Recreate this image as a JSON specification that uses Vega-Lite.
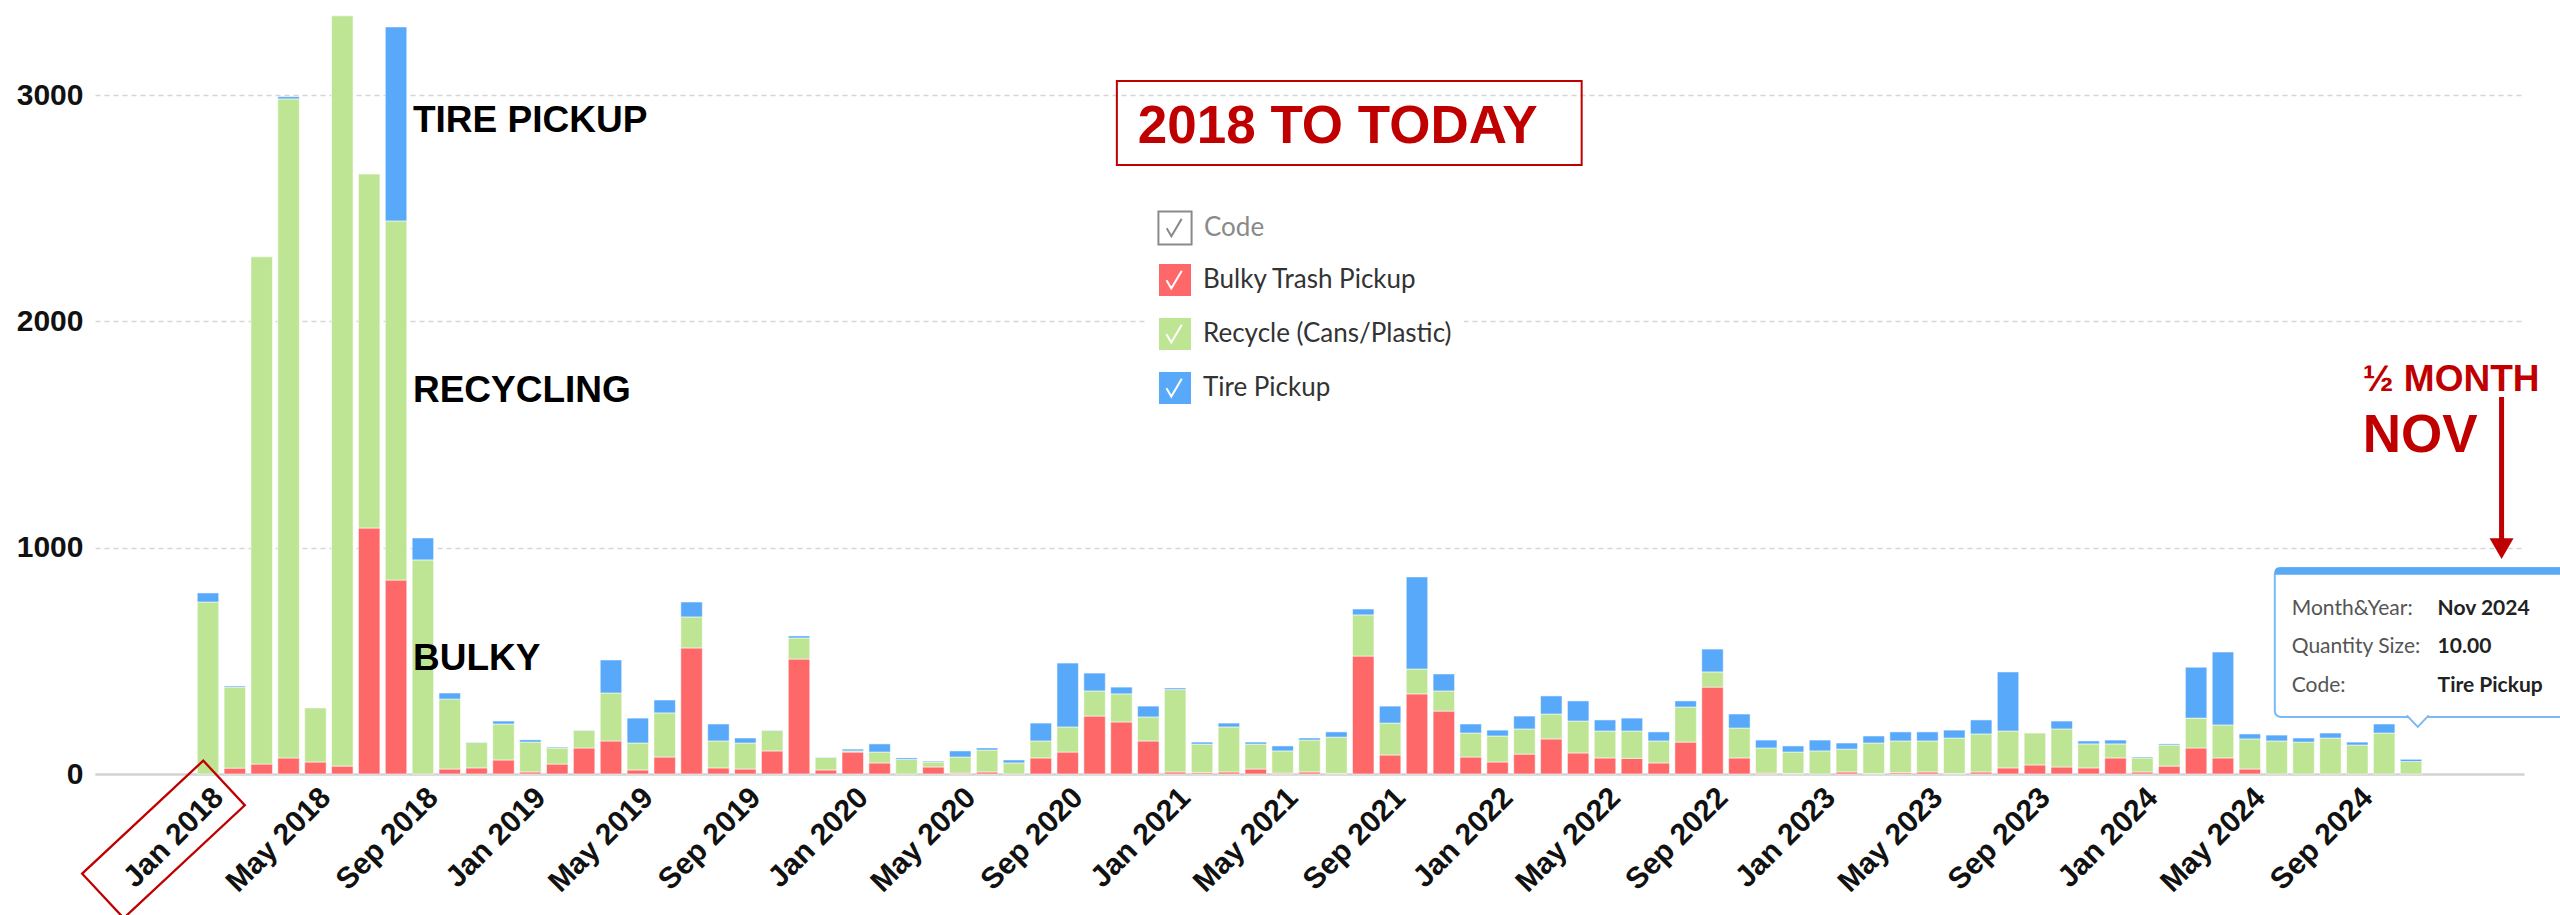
{
  "$schema": "https://vega.github.io/schema/vega-lite/v6.json",
  "autosize": {"type": "none"},
  "width": 2429,
  "height": 774,
  "padding": {"left": 95, "top": 0, "right": 36, "bottom": 141},
  "background": "#ffffff",
  "config": {"view": {"stroke": null}},
  "resolve": {"scale": {"x": "independent", "y": "independent"}},
  "layer": [
    {
      "data": {"values": [
        {"month":"Jan 2018","Bulky Trash Pickup":0,"Recycle (Cans/Plastic)":760,"Tire Pickup":40},
        {"month":"Feb 2018","Bulky Trash Pickup":26,"Recycle (Cans/Plastic)":358,"Tire Pickup":5},
        {"month":"Mar 2018","Bulky Trash Pickup":44,"Recycle (Cans/Plastic)":2241,"Tire Pickup":0},
        {"month":"Apr 2018","Bulky Trash Pickup":71,"Recycle (Cans/Plastic)":2912,"Tire Pickup":10},
        {"month":"May 2018","Bulky Trash Pickup":53,"Recycle (Cans/Plastic)":239,"Tire Pickup":0},
        {"month":"Jun 2018","Bulky Trash Pickup":35,"Recycle (Cans/Plastic)":3315,"Tire Pickup":0},
        {"month":"Jul 2018","Bulky Trash Pickup":1087,"Recycle (Cans/Plastic)":1564,"Tire Pickup":0},
        {"month":"Aug 2018","Bulky Trash Pickup":857,"Recycle (Cans/Plastic)":1587,"Tire Pickup":857},
        {"month":"Sep 2018","Bulky Trash Pickup":0,"Recycle (Cans/Plastic)":946,"Tire Pickup":97},
        {"month":"Oct 2018","Bulky Trash Pickup":22,"Recycle (Cans/Plastic)":309,"Tire Pickup":27},
        {"month":"Nov 2018","Bulky Trash Pickup":27,"Recycle (Cans/Plastic)":112,"Tire Pickup":2},
        {"month":"Dec 2018","Bulky Trash Pickup":62,"Recycle (Cans/Plastic)":159,"Tire Pickup":13},
        {"month":"Jan 2019","Bulky Trash Pickup":9,"Recycle (Cans/Plastic)":132,"Tire Pickup":10},
        {"month":"Feb 2019","Bulky Trash Pickup":44,"Recycle (Cans/Plastic)":71,"Tire Pickup":4},
        {"month":"Mar 2019","Bulky Trash Pickup":115,"Recycle (Cans/Plastic)":77,"Tire Pickup":2},
        {"month":"Apr 2019","Bulky Trash Pickup":146,"Recycle (Cans/Plastic)":212,"Tire Pickup":146},
        {"month":"May 2019","Bulky Trash Pickup":18,"Recycle (Cans/Plastic)":119,"Tire Pickup":110},
        {"month":"Jun 2019","Bulky Trash Pickup":75,"Recycle (Cans/Plastic)":195,"Tire Pickup":57},
        {"month":"Jul 2019","Bulky Trash Pickup":557,"Recycle (Cans/Plastic)":137,"Tire Pickup":66},
        {"month":"Aug 2019","Bulky Trash Pickup":27,"Recycle (Cans/Plastic)":119,"Tire Pickup":75},
        {"month":"Sep 2019","Bulky Trash Pickup":22,"Recycle (Cans/Plastic)":115,"Tire Pickup":22},
        {"month":"Oct 2019","Bulky Trash Pickup":102,"Recycle (Cans/Plastic)":90,"Tire Pickup":2},
        {"month":"Nov 2019","Bulky Trash Pickup":508,"Recycle (Cans/Plastic)":93,"Tire Pickup":9},
        {"month":"Dec 2019","Bulky Trash Pickup":18,"Recycle (Cans/Plastic)":55,"Tire Pickup":2},
        {"month":"Jan 2020","Bulky Trash Pickup":97,"Recycle (Cans/Plastic)":5,"Tire Pickup":8},
        {"month":"Feb 2020","Bulky Trash Pickup":49,"Recycle (Cans/Plastic)":48,"Tire Pickup":36},
        {"month":"Mar 2020","Bulky Trash Pickup":0,"Recycle (Cans/Plastic)":64,"Tire Pickup":7},
        {"month":"Apr 2020","Bulky Trash Pickup":31,"Recycle (Cans/Plastic)":22,"Tire Pickup":4},
        {"month":"May 2020","Bulky Trash Pickup":4,"Recycle (Cans/Plastic)":71,"Tire Pickup":27},
        {"month":"Jun 2020","Bulky Trash Pickup":9,"Recycle (Cans/Plastic)":97,"Tire Pickup":9},
        {"month":"Jul 2020","Bulky Trash Pickup":0,"Recycle (Cans/Plastic)":49,"Tire Pickup":13},
        {"month":"Aug 2020","Bulky Trash Pickup":71,"Recycle (Cans/Plastic)":75,"Tire Pickup":79},
        {"month":"Sep 2020","Bulky Trash Pickup":97,"Recycle (Cans/Plastic)":111,"Tire Pickup":282},
        {"month":"Oct 2020","Bulky Trash Pickup":256,"Recycle (Cans/Plastic)":111,"Tire Pickup":79},
        {"month":"Nov 2020","Bulky Trash Pickup":230,"Recycle (Cans/Plastic)":124,"Tire Pickup":30},
        {"month":"Dec 2020","Bulky Trash Pickup":146,"Recycle (Cans/Plastic)":106,"Tire Pickup":48},
        {"month":"Jan 2021","Bulky Trash Pickup":9,"Recycle (Cans/Plastic)":364,"Tire Pickup":7},
        {"month":"Feb 2021","Bulky Trash Pickup":6,"Recycle (Cans/Plastic)":126,"Tire Pickup":9},
        {"month":"Mar 2021","Bulky Trash Pickup":9,"Recycle (Cans/Plastic)":199,"Tire Pickup":17},
        {"month":"Apr 2021","Bulky Trash Pickup":22,"Recycle (Cans/Plastic)":110,"Tire Pickup":9},
        {"month":"May 2021","Bulky Trash Pickup":4,"Recycle (Cans/Plastic)":98,"Tire Pickup":22},
        {"month":"Jun 2021","Bulky Trash Pickup":9,"Recycle (Cans/Plastic)":141,"Tire Pickup":9},
        {"month":"Jul 2021","Bulky Trash Pickup":3,"Recycle (Cans/Plastic)":160,"Tire Pickup":23},
        {"month":"Aug 2021","Bulky Trash Pickup":521,"Recycle (Cans/Plastic)":182,"Tire Pickup":26},
        {"month":"Sep 2021","Bulky Trash Pickup":84,"Recycle (Cans/Plastic)":141,"Tire Pickup":75},
        {"month":"Oct 2021","Bulky Trash Pickup":354,"Recycle (Cans/Plastic)":110,"Tire Pickup":407},
        {"month":"Nov 2021","Bulky Trash Pickup":278,"Recycle (Cans/Plastic)":89,"Tire Pickup":75},
        {"month":"Dec 2021","Bulky Trash Pickup":75,"Recycle (Cans/Plastic)":106,"Tire Pickup":40},
        {"month":"Jan 2022","Bulky Trash Pickup":53,"Recycle (Cans/Plastic)":115,"Tire Pickup":26},
        {"month":"Feb 2022","Bulky Trash Pickup":88,"Recycle (Cans/Plastic)":111,"Tire Pickup":57},
        {"month":"Mar 2022","Bulky Trash Pickup":155,"Recycle (Cans/Plastic)":110,"Tire Pickup":80},
        {"month":"Apr 2022","Bulky Trash Pickup":93,"Recycle (Cans/Plastic)":141,"Tire Pickup":89},
        {"month":"May 2022","Bulky Trash Pickup":71,"Recycle (Cans/Plastic)":119,"Tire Pickup":49},
        {"month":"Jun 2022","Bulky Trash Pickup":69,"Recycle (Cans/Plastic)":121,"Tire Pickup":57},
        {"month":"Jul 2022","Bulky Trash Pickup":49,"Recycle (Cans/Plastic)":97,"Tire Pickup":40},
        {"month":"Aug 2022","Bulky Trash Pickup":141,"Recycle (Cans/Plastic)":155,"Tire Pickup":27},
        {"month":"Sep 2022","Bulky Trash Pickup":384,"Recycle (Cans/Plastic)":67,"Tire Pickup":101},
        {"month":"Oct 2022","Bulky Trash Pickup":71,"Recycle (Cans/Plastic)":132,"Tire Pickup":62},
        {"month":"Nov 2022","Bulky Trash Pickup":4,"Recycle (Cans/Plastic)":111,"Tire Pickup":35},
        {"month":"Dec 2022","Bulky Trash Pickup":2,"Recycle (Cans/Plastic)":95,"Tire Pickup":27},
        {"month":"Jan 2023","Bulky Trash Pickup":0,"Recycle (Cans/Plastic)":102,"Tire Pickup":48},
        {"month":"Feb 2023","Bulky Trash Pickup":9,"Recycle (Cans/Plastic)":101,"Tire Pickup":27},
        {"month":"Mar 2023","Bulky Trash Pickup":2,"Recycle (Cans/Plastic)":135,"Tire Pickup":31},
        {"month":"Apr 2023","Bulky Trash Pickup":6,"Recycle (Cans/Plastic)":140,"Tire Pickup":40},
        {"month":"May 2023","Bulky Trash Pickup":9,"Recycle (Cans/Plastic)":137,"Tire Pickup":40},
        {"month":"Jun 2023","Bulky Trash Pickup":2,"Recycle (Cans/Plastic)":157,"Tire Pickup":35},
        {"month":"Jul 2023","Bulky Trash Pickup":9,"Recycle (Cans/Plastic)":168,"Tire Pickup":62},
        {"month":"Aug 2023","Bulky Trash Pickup":27,"Recycle (Cans/Plastic)":163,"Tire Pickup":261},
        {"month":"Sep 2023","Bulky Trash Pickup":40,"Recycle (Cans/Plastic)":141,"Tire Pickup":0},
        {"month":"Oct 2023","Bulky Trash Pickup":31,"Recycle (Cans/Plastic)":168,"Tire Pickup":35},
        {"month":"Nov 2023","Bulky Trash Pickup":27,"Recycle (Cans/Plastic)":106,"Tire Pickup":13},
        {"month":"Dec 2023","Bulky Trash Pickup":71,"Recycle (Cans/Plastic)":62,"Tire Pickup":17},
        {"month":"Jan 2024","Bulky Trash Pickup":9,"Recycle (Cans/Plastic)":62,"Tire Pickup":4},
        {"month":"Feb 2024","Bulky Trash Pickup":35,"Recycle (Cans/Plastic)":93,"Tire Pickup":5},
        {"month":"Mar 2024","Bulky Trash Pickup":115,"Recycle (Cans/Plastic)":132,"Tire Pickup":225},
        {"month":"Apr 2024","Bulky Trash Pickup":71,"Recycle (Cans/Plastic)":146,"Tire Pickup":322},
        {"month":"May 2024","Bulky Trash Pickup":22,"Recycle (Cans/Plastic)":133,"Tire Pickup":22},
        {"month":"Jun 2024","Bulky Trash Pickup":0,"Recycle (Cans/Plastic)":146,"Tire Pickup":26},
        {"month":"Jul 2024","Bulky Trash Pickup":0,"Recycle (Cans/Plastic)":141,"Tire Pickup":18},
        {"month":"Aug 2024","Bulky Trash Pickup":0,"Recycle (Cans/Plastic)":159,"Tire Pickup":22},
        {"month":"Sep 2024","Bulky Trash Pickup":0,"Recycle (Cans/Plastic)":128,"Tire Pickup":13},
        {"month":"Oct 2024","Bulky Trash Pickup":0,"Recycle (Cans/Plastic)":181,"Tire Pickup":40},
        {"month":"Nov 2024","Bulky Trash Pickup":0,"Recycle (Cans/Plastic)":55,"Tire Pickup":10}
      ]},
      "transform": [
        {"fold": ["Bulky Trash Pickup", "Recycle (Cans/Plastic)", "Tire Pickup"], "as": ["code", "qty"]},
        {"filter": "datum.qty > 0"}
      ],
      "mark": {"type": "bar", "stroke": "#ffffff", "strokeWidth": 1, "strokeOpacity": 0.55},
      "encoding": {
        "x": {
          "field": "month", "type": "ordinal",
          "scale": {
            "domain": ["Oct 2017","Nov 2017","Dec 2017",
              "Jan 2018","Feb 2018","Mar 2018","Apr 2018","May 2018","Jun 2018","Jul 2018","Aug 2018","Sep 2018","Oct 2018","Nov 2018","Dec 2018",
              "Jan 2019","Feb 2019","Mar 2019","Apr 2019","May 2019","Jun 2019","Jul 2019","Aug 2019","Sep 2019","Oct 2019","Nov 2019","Dec 2019",
              "Jan 2020","Feb 2020","Mar 2020","Apr 2020","May 2020","Jun 2020","Jul 2020","Aug 2020","Sep 2020","Oct 2020","Nov 2020","Dec 2020",
              "Jan 2021","Feb 2021","Mar 2021","Apr 2021","May 2021","Jun 2021","Jul 2021","Aug 2021","Sep 2021","Oct 2021","Nov 2021","Dec 2021",
              "Jan 2022","Feb 2022","Mar 2022","Apr 2022","May 2022","Jun 2022","Jul 2022","Aug 2022","Sep 2022","Oct 2022","Nov 2022","Dec 2022",
              "Jan 2023","Feb 2023","Mar 2023","Apr 2023","May 2023","Jun 2023","Jul 2023","Aug 2023","Sep 2023","Oct 2023","Nov 2023","Dec 2023",
              "Jan 2024","Feb 2024","Mar 2024","Apr 2024","May 2024","Jun 2024","Jul 2024","Aug 2024","Sep 2024","Oct 2024","Nov 2024","Dec 2024",
              "Jan 2025","Feb 2025"],
            "paddingInner": 0.2, "paddingOuter": 0.805
          },
          "axis": {
            "title": null, "labelAngle": -45, "labelFont": "Liberation Sans", "labelFontSize": 30,
            "labelFontWeight": "bold", "labelColor": "#111111", "ticks": false, "labelPadding": 8,
            "domainColor": "#d3d3d3", "domainWidth": 2.5, "labelOverlap": false, "grid": false,
            "labelExpr": "indexof(['Jan','May','Sep'], substring(datum.value, 0, 3)) >= 0 && indexof(['2017','2025'], substring(datum.value, 4)) < 0 ? datum.value : ''"
          }
        },
        "y": {
          "field": "qty", "type": "quantitative", "stack": "zero",
          "scale": {"domain": [0, 3420], "nice": false},
          "axis": {
            "title": null, "values": [0, 1000, 2000, 3000], "format": "d", "labelFont": "Liberation Sans", "labelFontSize": 30,
            "labelFontWeight": "bold", "labelColor": "#111111", "ticks": false, "domain": false, "labelPadding": 12,
            "grid": true, "gridColor": "#d5d5d5", "gridDash": [5, 4], "gridWidth": 1.5
          }
        },
        "color": {
          "field": "code", "type": "nominal",
          "scale": {
            "domain": ["Bulky Trash Pickup", "Recycle (Cans/Plastic)", "Tire Pickup"],
            "range": ["#ff6868", "#bee594", "#58a9f9"]
          },
          "legend": {
            "title": null, "orient": "none", "legendX": 1050, "legendY": 250, "padding": 12,
            "fillColor": "#ffffff",
            "symbolType": "M-1,-1L1,-1L1,1L-1,1Z M0.4,-0.55L-0.22,0.5L-0.5,0.02",
            "symbolSize": 1156, "symbolStrokeColor": "#ffffff", "symbolStrokeWidth": 2,
            "symbolOpacity": 1, "labelFont": "Lato", "labelFontSize": 26, "labelColor": "#333333",
            "labelOffset": 10, "rowPadding": 12, "labelLimit": 400
          }
        },
        "order": {"field": "code", "sort": "ascending"}
      }
    },
    {
      "data": {"values": [{}]},
      "layer": [
        {"mark": {"type": "point", "size": 0, "opacity": 0},
         "encoding": {"x": {"datum": 0, "type": "quantitative", "scale": {"domain": [-4.205, 86.205], "nice": false, "zero": false}, "axis": null},
                      "y": {"datum": 100, "type": "quantitative", "scale": {"domain": [0, 3420], "nice": false}, "axis": null},
                      "stroke": {"datum": "Code", "type": "nominal", "scale": {"domain": ["Code"], "range": ["#8a8a8a"]},
                                 "legend": {"title": null, "orient": "none", "legendX": 1062, "legendY": 210, "padding": 0,
                                            "symbolType": "M-1,-1L1,-1L1,1L-1,1Z M0.4,-0.55L-0.22,0.5L-0.5,0.02",
                                            "symbolSize": 1100, "symbolFillColor": "#ffffff", "symbolStrokeWidth": 2, "symbolOpacity": 1,
                                            "labelFont": "Lato", "labelFontSize": 26, "labelColor": "#8a8a8a", "labelOffset": 11}}}},
        {"mark": {"type": "text", "text": "TIRE PICKUP", "font": "Liberation Sans", "fontSize": 37, "fontWeight": "bold", "color": "#000000", "align": "left", "baseline": "alphabetic"},
         "encoding": {"x": {"datum": 7.63, "type": "quantitative", "scale": {"domain": [-4.205, 86.205], "nice": false, "zero": false}, "axis": null},
                      "y": {"datum": 2837, "type": "quantitative", "scale": {"domain": [0, 3420], "nice": false}, "axis": null}}},
        {"mark": {"type": "text", "text": "RECYCLING", "font": "Liberation Sans", "fontSize": 37, "fontWeight": "bold", "color": "#000000", "align": "left", "baseline": "alphabetic"},
         "encoding": {"x": {"datum": 7.63, "type": "quantitative", "scale": {"domain": [-4.205, 86.205], "nice": false, "zero": false}, "axis": null},
                      "y": {"datum": 1644, "type": "quantitative", "scale": {"domain": [0, 3420], "nice": false}, "axis": null}}},
        {"mark": {"type": "text", "text": "BULKY", "font": "Liberation Sans", "fontSize": 37, "fontWeight": "bold", "color": "#000000", "align": "left", "baseline": "alphabetic"},
         "encoding": {"x": {"datum": 7.63, "type": "quantitative", "scale": {"domain": [-4.205, 86.205], "nice": false, "zero": false}, "axis": null},
                      "y": {"datum": 460, "type": "quantitative", "scale": {"domain": [0, 3420], "nice": false}, "axis": null}}},
        {"mark": {"type": "rect", "fill": "transparent", "stroke": "#c00000", "strokeWidth": 2},
         "encoding": {"x": {"datum": 33.83, "type": "quantitative", "scale": {"domain": [-4.205, 86.205], "nice": false, "zero": false}, "axis": null},
                      "x2": {"datum": 51.13},
                      "y": {"datum": 3062, "type": "quantitative", "scale": {"domain": [0, 3420], "nice": false}, "axis": null},
                      "y2": {"datum": 2691}}},
        {"mark": {"type": "text", "text": "2018 TO TODAY", "font": "Liberation Sans", "fontSize": 53, "fontWeight": "bold", "color": "#c00000", "align": "left", "baseline": "alphabetic"},
         "encoding": {"x": {"datum": 34.61, "type": "quantitative", "scale": {"domain": [-4.205, 86.205], "nice": false, "zero": false}, "axis": null},
                      "y": {"datum": 2788, "type": "quantitative", "scale": {"domain": [0, 3420], "nice": false}, "axis": null}}},
        {"mark": {"type": "text", "text": "½ MONTH", "font": "Liberation Sans", "fontSize": 37, "fontWeight": "bold", "color": "#c00000", "align": "left", "baseline": "alphabetic"},
         "encoding": {"x": {"datum": 80.2, "type": "quantitative", "scale": {"domain": [-4.205, 86.205], "nice": false, "zero": false}, "axis": null},
                      "y": {"datum": 1692, "type": "quantitative", "scale": {"domain": [0, 3420], "nice": false}, "axis": null}}},
        {"mark": {"type": "text", "text": "NOV", "font": "Liberation Sans", "fontSize": 53, "fontWeight": "bold", "color": "#c00000", "align": "left", "baseline": "alphabetic"},
         "encoding": {"x": {"datum": 80.2, "type": "quantitative", "scale": {"domain": [-4.205, 86.205], "nice": false, "zero": false}, "axis": null},
                      "y": {"datum": 1423, "type": "quantitative", "scale": {"domain": [0, 3420], "nice": false}, "axis": null}}},
        {"mark": {"type": "rule", "color": "#c00000", "strokeWidth": 5},
         "encoding": {"x": {"datum": 85.37, "type": "quantitative", "scale": {"domain": [-4.205, 86.205], "nice": false, "zero": false}, "axis": null},
                      "y": {"datum": 1666, "type": "quantitative", "scale": {"domain": [0, 3420], "nice": false}, "axis": null},
                      "y2": {"datum": 1034}}},
        {"mark": {"type": "point", "shape": "triangle-down", "size": 576, "filled": true, "color": "#c00000", "opacity": 1},
         "encoding": {"x": {"datum": 85.37, "type": "quantitative", "scale": {"domain": [-4.205, 86.205], "nice": false, "zero": false}, "axis": null},
                      "y": {"datum": 996, "type": "quantitative", "scale": {"domain": [0, 3420], "nice": false}, "axis": null}}},
        {"mark": {"type": "rect", "fill": "#ffffff", "stroke": "#7ab9f4", "strokeWidth": 2, "cornerRadius": 6},
         "encoding": {"x": {"datum": 76.93, "type": "quantitative", "scale": {"domain": [-4.205, 86.205], "nice": false, "zero": false}, "axis": null},
                      "x2": {"datum": 89.6},
                      "y": {"datum": 910, "type": "quantitative", "scale": {"domain": [0, 3420], "nice": false}, "axis": null},
                      "y2": {"datum": 252}}},
        {"mark": {"type": "rect", "fill": "#5aa9f5", "cornerRadiusTopLeft": 6},
         "encoding": {"x": {"datum": 76.93, "type": "quantitative", "scale": {"domain": [-4.205, 86.205], "nice": false, "zero": false}, "axis": null},
                      "x2": {"datum": 89.6},
                      "y": {"datum": 912, "type": "quantitative", "scale": {"domain": [0, 3420], "nice": false}, "axis": null},
                      "y2": {"datum": 880}}},
        {"mark": {"type": "point", "shape": "M-1,-0.15L0,0.9L1,-0.15", "size": 484, "filled": true, "fill": "#ffffff", "stroke": "#7ab9f4", "strokeWidth": 2, "opacity": 1},
         "encoding": {"x": {"datum": 82.25, "type": "quantitative", "scale": {"domain": [-4.205, 86.205], "nice": false, "zero": false}, "axis": null},
                      "y": {"datum": 252, "type": "quantitative", "scale": {"domain": [0, 3420], "nice": false}, "axis": null}}},
        {"mark": {"type": "text", "text": "Month&Year:", "font": "Lato", "fontSize": 21, "color": "#555555", "align": "left", "baseline": "alphabetic"},
         "encoding": {"x": {"datum": 77.56, "type": "quantitative", "scale": {"domain": [-4.205, 86.205], "nice": false, "zero": false}, "axis": null},
                      "y": {"datum": 703, "type": "quantitative", "scale": {"domain": [0, 3420], "nice": false}, "axis": null}}},
        {"mark": {"type": "text", "text": "Quantity Size:", "font": "Lato", "fontSize": 21, "color": "#555555", "align": "left", "baseline": "alphabetic"},
         "encoding": {"x": {"datum": 77.56, "type": "quantitative", "scale": {"domain": [-4.205, 86.205], "nice": false, "zero": false}, "axis": null},
                      "y": {"datum": 535, "type": "quantitative", "scale": {"domain": [0, 3420], "nice": false}, "axis": null}}},
        {"mark": {"type": "text", "text": "Code:", "font": "Lato", "fontSize": 21, "color": "#555555", "align": "left", "baseline": "alphabetic"},
         "encoding": {"x": {"datum": 77.56, "type": "quantitative", "scale": {"domain": [-4.205, 86.205], "nice": false, "zero": false}, "axis": null},
                      "y": {"datum": 362, "type": "quantitative", "scale": {"domain": [0, 3420], "nice": false}, "axis": null}}},
        {"mark": {"type": "text", "text": "Nov 2024", "font": "Lato", "fontSize": 21, "fontWeight": "bold", "color": "#222222", "align": "left", "baseline": "alphabetic"},
         "encoding": {"x": {"datum": 82.99, "type": "quantitative", "scale": {"domain": [-4.205, 86.205], "nice": false, "zero": false}, "axis": null},
                      "y": {"datum": 703, "type": "quantitative", "scale": {"domain": [0, 3420], "nice": false}, "axis": null}}},
        {"mark": {"type": "text", "text": "10.00", "font": "Lato", "fontSize": 21, "fontWeight": "bold", "color": "#222222", "align": "left", "baseline": "alphabetic"},
         "encoding": {"x": {"datum": 82.99, "type": "quantitative", "scale": {"domain": [-4.205, 86.205], "nice": false, "zero": false}, "axis": null},
                      "y": {"datum": 535, "type": "quantitative", "scale": {"domain": [0, 3420], "nice": false}, "axis": null}}},
        {"mark": {"type": "text", "text": "Tire Pickup", "font": "Lato", "fontSize": 21, "fontWeight": "bold", "color": "#222222", "align": "left", "baseline": "alphabetic"},
         "encoding": {"x": {"datum": 82.99, "type": "quantitative", "scale": {"domain": [-4.205, 86.205], "nice": false, "zero": false}, "axis": null},
                      "y": {"datum": 362, "type": "quantitative", "scale": {"domain": [0, 3420], "nice": false}, "axis": null}}},
        {"mark": {"type": "point", "shape": "M-1,-0.368L1,-0.368L1,0.368L-1,0.368Z", "size": 27423, "angle": 317, "filled": false, "color": "#c00000", "strokeWidth": 2.3, "opacity": 1},
         "encoding": {"x": {"datum": -1.656, "type": "quantitative", "scale": {"domain": [-4.205, 86.205], "nice": false, "zero": false}, "axis": null},
                      "y": {"datum": -289, "type": "quantitative", "scale": {"domain": [0, 3420], "nice": false}, "axis": null}}}
      ]
    }
  ]
}
